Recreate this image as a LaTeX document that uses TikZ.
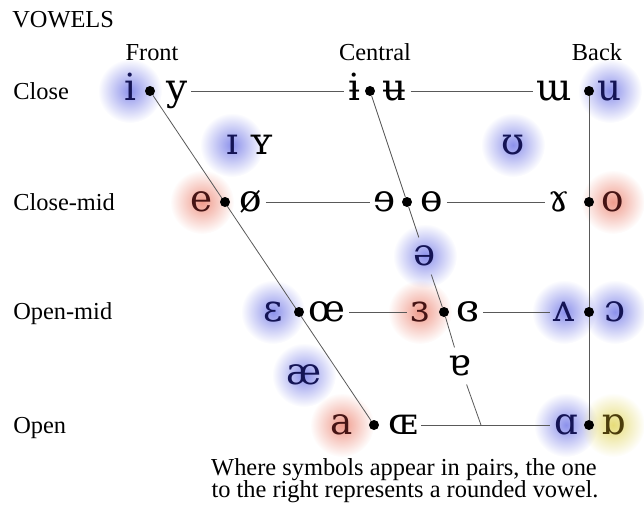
\documentclass[tikz,border=0pt]{standalone}
\usepackage{fontspec}
\setmainfont{Liberation Serif}
\newfontfamily\ipafont{DejaVu Serif}
\usetikzlibrary{fadings}
\definecolor{glowblue}{RGB}{140,145,235}
\definecolor{glowred}{RGB}{240,155,140}
\definecolor{glowyellow}{RGB}{230,220,120}
\definecolor{symblue}{RGB}{20,20,85}
\definecolor{symred}{RGB}{70,20,20}
\definecolor{symyellow}{RGB}{75,60,10}
\tikzfading[name=glowfade, inner color=transparent!0, outer color=transparent!100]
\pgfdeclarelayer{glow}
\pgfdeclarelayer{lines}
\pgfsetlayers{glow,lines,main}

\begin{document}
\begin{tikzpicture}[x=0.75pt, y=-0.75pt,
    vowel/.style={inner sep=2.5pt, text height=20.5pt, text depth=6pt,
      font=\ipafont\fontsize{28}{32}\selectfont},
    bsym/.style={vowel, text=symblue},
    rsym/.style={vowel, text=symred},
    ysym/.style={vowel, text=symyellow},
    vdot/.style={circle, fill=black, inner sep=0pt, minimum size=7.5pt},
    lbl/.style={inner sep=0pt, font=\fontsize{18.3}{16.5}\selectfont},
    chart/.style={draw=black!65, line width=0.6pt}]
  \useasboundingbox (0,0) rectangle (644,519);
  %--- Headings
  \node[lbl, anchor=base west] (title) at (12,27) {VOWELS};
  \node[lbl, anchor=base] (front)   at (152,60) {Front};
  \node[lbl, anchor=base] (central) at (375,60) {Central};
  \node[lbl, anchor=base] (back)    at (597,60) {Back};
  \node[lbl, anchor=base west] (rclose)    at (13,99)  {Close};
  \node[lbl, anchor=base west] (rclosemid) at (13,210) {Close-mid};
  \node[lbl, anchor=base west] (ropenmid)  at (13,319) {Open-mid};
  \node[lbl, anchor=base west] (ropen)     at (13,433) {Open};
  %--- Close
  \node[bsym] (i)    at (130,91) {i};
  \node[vdot] (dI)   at (150,91) {};
  \node[vowel] (y)   at (177,91) {y};
  \node[vowel] (ibar) at (354,91) {ɨ};
  \node[vdot] (dIbar) at (370,91) {};
  \node[vowel] (ubar) at (395,91) {ʉ};
  \node[vowel] (uu)  at (554,91) {ɯ};
  \node[vdot] (dU)   at (589,91) {};
  \node[bsym] (u)    at (610,91) {u};
  %--- Near-close
  \node[bsym] (ismall) at (232,145) {ɪ};
  \node[vowel] (ysmall) at (262,145) {ʏ};
  \node[bsym] (upsilon) at (513,145) {ʊ};
  %--- Close-mid
  \node[rsym] (e)    at (202,202) {e};
  \node[vdot] (dE)   at (225,202) {};
  \node[vowel] (oslash) at (251,202) {ø};
  \node[vowel] (reve) at (385,202) {ɘ};
  \node[vdot] (dRevE) at (407,202) {};
  \node[vowel] (obar) at (432,202) {ɵ};
  \node[vowel] (gam) at (559,202) {ɤ};
  \node[vdot] (dO)   at (589,202) {};
  \node[rsym] (o)    at (613,202) {o};
  %--- Mid
  \node[bsym, inner sep=0.5pt] (schwa) at (425,256) {ə};
  %--- Open-mid
  \node[bsym] (eps)  at (273,312) {ɛ};
  \node[vdot] (dEps) at (299,312) {};
  \node[vowel] (oe)  at (327,312) {œ};
  \node[rsym] (reveps) at (420,312) {ɜ};
  \node[vdot] (dRevEps) at (444,312) {};
  \node[vowel] (crevEps) at (468,312) {ɞ};
  \node[bsym] (wedge) at (564,312) {ʌ};
  \node[vdot] (dOpenO) at (589,312) {};
  \node[bsym] (openo) at (615,312) {ɔ};
  %--- Near-open
  \node[bsym] (ae) at (304,375) {æ};
  \node[vowel, inner sep=0.5pt] (turna) at (460,366) {ɐ};
  %--- Open
  \node[rsym] (a)    at (342,425) {a};
  \node[vdot] (dA)   at (374,425) {};
  \node[vowel] (OE)  at (403,425) {ɶ};
  \node[bsym] (alpha) at (566,425) {ɑ};
  \node[vdot] (dAlpha) at (589,425) {};
  \node[ysym] (turnalpha) at (613,425) {ɒ};
  \coordinate (cEnd) at (481,425);
  %--- Note
  \node[lbl, anchor=base] (notea) at (404,475) {Where symbols appear in pairs, the one};
  \node[lbl, anchor=base] (noteb) at (405,497) {to the right represents a rounded vowel.};
  %--- Glows
  \begin{pgfonlayer}{glow}
    \foreach \n in {i,u,ismall,upsilon,schwa,eps,wedge,openo,ae,alpha}
      \fill[glowblue, path fading=glowfade] (\n) circle (24pt);
    \foreach \n in {e,o,reveps,a}
      \fill[glowred, path fading=glowfade] (\n) circle (24pt);
    \fill[glowyellow, path fading=glowfade] (turnalpha) circle (24pt);
  \end{pgfonlayer}
  %--- Chart lines
  \begin{pgfonlayer}{lines}
    \draw[chart] (y) -- (ibar);
    \draw[chart] (ubar) -- (uu);
    \draw[chart] (oslash) -- (reve);
    \draw[chart] (obar) -- (gam);
    \draw[chart] (oe) -- (reveps);
    \draw[chart] (crevEps) -- (wedge);
    \draw[chart] (OE) -- (alpha);
    \draw[chart] (dI) -- (dA);
    \draw[chart] (dU) -- (dAlpha);
    \draw[chart] (dIbar) -- (dRevE) -- (schwa) -- (dRevEps) -- (turna) -- (cEnd);
  \end{pgfonlayer}
\end{tikzpicture}
\end{document}
